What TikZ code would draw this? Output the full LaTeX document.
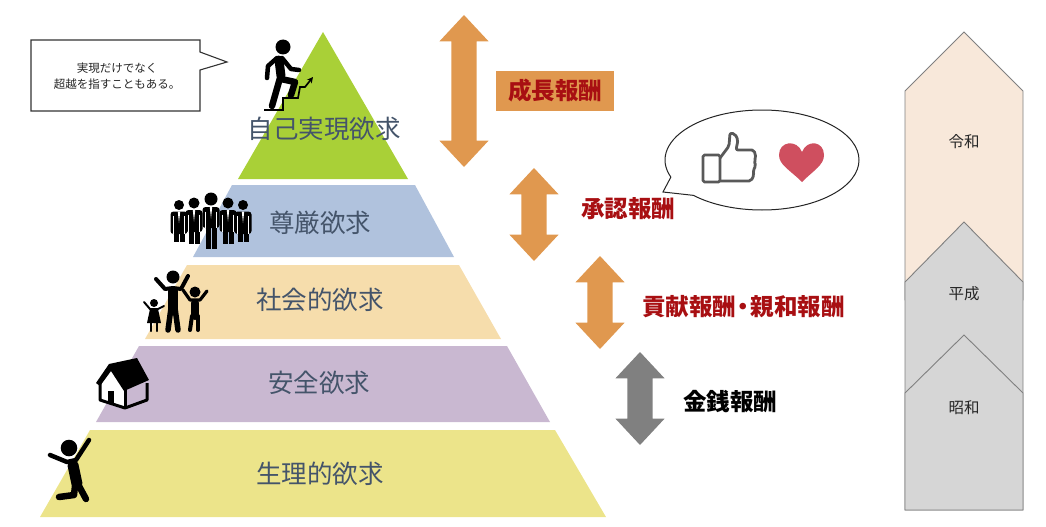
\documentclass[tikz,border=0pt]{standalone}
\usepackage{fontspec}
\setmainfont{Noto Sans CJK JP}
\usetikzlibrary{positioning,shapes.arrows,arrows.meta}

\definecolor{tiertext}{HTML}{44546A}
\definecolor{rewardorange}{HTML}{E0984F}
\definecolor{rewardred}{HTML}{A80F12}
\definecolor{icongrey}{HTML}{595959}

\newcommand{\jpsize}[1]{\fontsize{#1}{#1}\selectfont}

% one man of the suited group: x, head y, foot y, head radius
\newcommand{\suitman}[4]{
  \fill (#1,#2) circle (#4);
  \fill[rounded corners=3] (#1-8.5,#2+#4+1.5) rectangle (#1+8.5,#2+29);
  \fill (#1-5.5,#2+26) rectangle (#1-0.5,#3);
  \fill (#1+0.5,#2+26) rectangle (#1+5.5,#3);
  \fill[white] (#1-1.2,#2+#4+1.5) -- (#1+1.2,#2+#4+1.5) -- (#1,#2+#4+13) -- cycle;
  \draw[white, line width=0.6pt] (#1-5.5,#2+#4+6) -- (#1-5.5,#2+29);
  \draw[white, line width=0.6pt] (#1+5.5,#2+#4+6) -- (#1+5.5,#2+29);
}

\tikzset{
  tier/.style={draw=none},
  tierlabel/.style={text=tiertext, font=\jpsize{25.5}, inner sep=0pt},
  rewardlabel/.style={font=\bfseries\jpsize{23.5}, inner sep=0pt},
  reward/.style={double arrow, rotate=90, fill=#1, draw=none, inner sep=12.5pt,
    double arrow head extend=12pt, double arrow tip angle=86, minimum height=93pt, outer sep=0pt},
  era/.style={draw=black!50, line width=0.9pt},
  eralabel/.style={font=\jpsize{15.5}, text=black!85, inner sep=0pt},
  limb/.style={line width=#1, line cap=round, line join=round},
  limb/.default=4pt
}

\begin{document}
\begin{tikzpicture}[x=1pt,y=-1pt]
  \useasboundingbox (0,0) rectangle (1046,527);

  % pyramid
  \fill[tier, fill={rgb,255:red,169;green,208;blue,55}] (323,32) -- (408,179) -- (238,179) -- cycle;
  \fill[tier, fill={rgb,255:red,176;green,194;blue,221}] (232,185) -- (415,185) -- (454,257) -- (193,257) -- cycle;
  \fill[tier, fill={rgb,255:red,246;green,221;blue,172}] (187,265) -- (459,265) -- (501,339) -- (145,339) -- cycle;
  \fill[tier, fill={rgb,255:red,201;green,184;blue,209}] (139,346) -- (507,346) -- (550,422) -- (96,422) -- cycle;
  \fill[tier, fill={rgb,255:red,236;green,228;blue,138}] (90,430) -- (555,430) -- (606,517) -- (40,517) -- cycle;

  \node (Self) [tierlabel] at (324,129) {自己実現欲求};
  \node (Esteem) [tierlabel] at (320,223) {尊厳欲求};
  \node (Social) [tierlabel] at (320,300) {社会的欲求};
  \node (Safety) [tierlabel] at (319,383) {安全欲求};
  \node (Body) [tierlabel] at (320,474) {生理的欲求};

  % callout
  \draw[line width=1.1pt, draw=black!80, fill=white] (31,40) -- (200,40) -- (200,52) -- (227,62) -- (200,70)
    -- (200,111) -- (31,111) -- cycle;
  \node (Note) [font=\jpsize{11.5}, align=center, inner sep=0pt, text=black!85] at (117,76.5)
    {実現だけでなく\\[4.5pt]超越を指すこともある。};

  % reward arrows
  \node (GrowArrow) [reward=rewardorange, minimum height=152pt] at (464,91) {};
  \node (PraiseArrow) [reward=rewardorange] at (534,214.5) {};
  \node (GiveArrow) [reward=rewardorange] at (600,302.5) {};
  \node (MoneyArrow) [reward=black!50] at (640,398.5) {};

  \node (Grow) [rewardlabel, fill=rewardorange, text=rewardred, minimum width=118pt, minimum height=40pt]
    at (555,91) {成長報酬};
  \node (Praise) [rewardlabel, text=rewardred] at (628,209) {承認報酬};
  \node (Give) [rewardlabel, text=rewardred] at (743.5,307) {貢献報酬\kern-4.3pt・\kern-4.3pt親和報酬};
  \node (Money) [rewardlabel, text=black] at (730,402) {金銭報酬};

  % speech balloon
  \draw[line width=1pt, draw=black!85, fill=white] (762,160) ++(225:97pt and 50pt)
    arc[start angle=225, end angle=560, x radius=97pt, y radius=50pt] -- (663,192) -- cycle;

  % thumb and heart
  \draw[icongrey, line width=2.8pt, line join=round, rounded corners=1.5pt] (703,155) rectangle (720,182);
  \draw[icongrey, line width=2.8pt, line join=round, rounded corners=2pt]
    (720,158) -- (729,146) -- (730,133) -- (735,134) -- (738,140) -- (736,150) -- (754,150)
    -- (756,158) -- (754,161) -- (756,166) -- (753,170) -- (754,175) -- (751,181) -- (720,181);
  \fill[fill={rgb,255:red,207;green,79;blue,95}] (802,182)
    .. controls (790,170) and (779,165) .. (779,155)
    .. controls (779,141) and (797,139) .. (802,152)
    .. controls (807,139) and (824,141) .. (824,155)
    .. controls (824,165) and (814,170) .. (802,182) -- cycle;

  % climber
  \fill (283,47) circle (7.5);
  \draw[limb=9pt] (279,60) -- (281,76);
  \draw[limb=4.5pt] (277,58) -- (268,66) -- (267,78);
  \draw[limb=4.5pt] (282,58) -- (291,69) -- (299,70);
  \draw[limb=6.5pt] (280,78) -- (272,106);
  \draw[limb=6.5pt] (281,79) -- (295,82) -- (291,95);
  \draw[line width=1.7pt, -{Stealth[length=6pt,width=6pt]}] (264,110) -- (283,110) -- (283,98) -- (298,98)
    -- (300,87) -- (305,87) -- (313,77);

  % group of five
  \suitman{179}{205}{242}{5}
  \suitman{243}{205}{242}{5}
  \suitman{194}{203}{244}{5.5}
  \suitman{228}{203}{244}{5.5}
  \suitman{211}{199}{249}{6.5}

  % family
  \fill (173,277) circle (6.5);
  \draw[limb=10pt] (173,291) -- (173,308);
  \draw[limb=4pt] (156,279) -- (165,289) -- (173,288) -- (181,289) -- (188,276);
  \draw[limb=5.5pt] (171,308) -- (168,330);
  \draw[limb=5.5pt] (175,308) -- (178,330);
  \fill (195,292) circle (5.5);
  \draw[limb=8pt] (195,303) -- (195,316);
  \draw[limb=3.2pt] (183,290) -- (190,300) -- (200,300) -- (207,291);
  \draw[limb=4pt] (192,316) -- (190,330);
  \draw[limb=4pt] (198,316) -- (198,330);
  \fill (154,303) circle (4);
  \draw[limb=2pt] (144,302) -- (150,309) -- (158,309) -- (164,306);
  \fill (150,309) -- (158,309) -- (161,323) -- (147,323) -- cycle;
  \draw[limb=2.4pt] (151,323) -- (151,331);
  \draw[limb=2.4pt] (157,323) -- (157,331);

  % house
  \fill[white] (100,384) -- (110,367) -- (124,388) -- (124,408) -- (100,400) -- cycle;
  \draw[line width=3pt, line join=round] (100,383) -- (100,400) -- (125,408) -- (147,400) -- (147,383);
  \draw[line width=3pt] (125,388) -- (125,408);
  \fill[line join=round] (96,383) -- (109,364) -- (137,358) -- (149,380) -- (124,391) -- (111,371) -- (100,386) -- cycle;
  \fill (108,391) rectangle (114,403);

  % jumper
  \fill (69,448) circle (8.3);
  \draw[limb=4.5pt] (50,455) -- (67,462) -- (76,460) -- (89,440);
  \draw[limb=11pt] (73,465) -- (77,484);
  \draw[limb=6.5pt] (75,486) -- (74,495) -- (59,497);
  \draw[limb=6.5pt] (79,486) -- (86,499);

  % eras
  \draw[era, fill={rgb,255:red,248;green,232;blue,218}] (905,91) -- (964,32) -- (1023,91) -- (1023,300) -- (905,300) -- cycle;
  \draw[era, fill={rgb,255:red,214;green,214;blue,214}] (905,282) -- (964,222) -- (1023,282) -- (1023,510) -- (905,510) -- cycle;
  \draw[era, fill={rgb,255:red,214;green,214;blue,214}] (905,393) -- (964,335) -- (1023,393) -- (1023,510) -- (905,510) -- cycle;

  \node (Reiwa) [eralabel] at (964,142) {令和};
  \node (Heisei) [eralabel] at (964,294) {平成};
  \node (Showa) [eralabel] at (964,408) {昭和};
\end{tikzpicture}
\end{document}
